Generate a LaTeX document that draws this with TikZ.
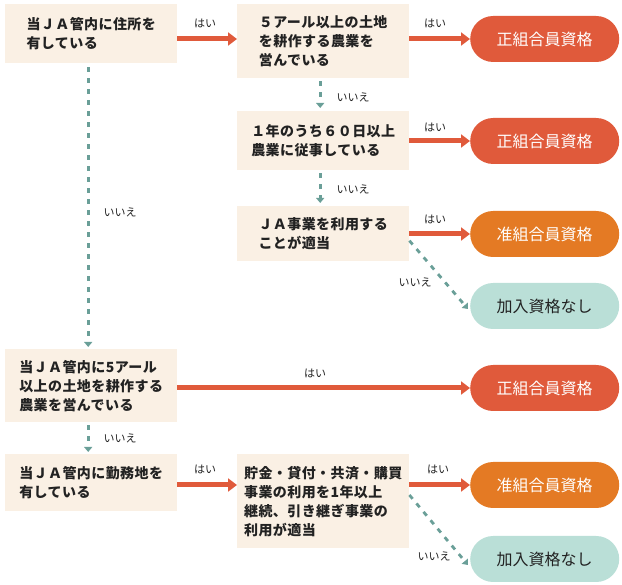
\documentclass[tikz,border=0pt]{standalone}
\usepackage{fontspec}
\usepackage{xcolor}
\usetikzlibrary{arrows.meta}
\newfontfamily\qfont{Noto Sans CJK JP}[LetterSpace=3]
\newfontfamily\rfont{Noto Sans CJK JP}
\definecolor{boxbg}{HTML}{FAF0E4}
\definecolor{yesred}{HTML}{E05A3B}
\definecolor{assocorange}{HTML}{E47A24}
\definecolor{noneteal}{HTML}{BADFD7}
\definecolor{nodash}{HTML}{6A9F98}
\definecolor{txtdark}{HTML}{222222}
\tikzset{question/.style = {fill=boxbg, anchor=north west, minimum width=172pt, inner sep=0pt, align=left, text=txtdark, font=\qfont\bfseries\fontsize{14}{19}\selectfont}}
\tikzset{result/.style = {anchor=west, rounded corners=23pt, minimum width=149pt, minimum height=46pt, inner sep=0pt, font=\rfont\fontsize{16}{16}\selectfont}}
\tikzset{yes/.style = {-{Triangle[length=9pt,width=13pt]}, line width=5pt, draw=yesred}}
\tikzset{no/.style = {-{Triangle[length=5pt,width=8pt]}, line width=2.8pt, draw=nodash, dash pattern=on 5pt off 6pt}}
\tikzset{lbl/.style = {text=txtdark, font=\rfont\fontsize{11}{11}\selectfont}}

\begin{document}
\begin{tikzpicture}[x=1pt,y=-1pt]
		\useasboundingbox (0,0) rectangle (622,585);
		% questions
		\node[question, minimum height=59pt] (q1) at (5,4) {当ＪＡ管内に住所を\\有している};
		\node[question, minimum height=74pt] (q2) at (237,4) {５アール以上の土地\\を耕作する農業を\\営んでいる};
		\node[question, minimum height=59pt] (q3) at (237,111) {１年のうち６０日以上\\農業に従事している};
		\node[question, minimum height=55pt] (q4) at (237,206) {ＪＡ事業を利用する\\ことが適当};
		\node[question, minimum height=73pt] (q5) at (5,349) {当ＪＡ管内に5アール\\以上の土地を耕作する\\農業を営んでいる};
		\node[question, minimum height=57pt] (q6) at (5,454) {当ＪＡ管内に勤務地を\\有している};
		\node[question, minimum height=94pt] (q7) at (237,454) {貯金・貸付・共済・購買\\事業の利用を1年以上\\継続、引き継ぎ事業の\\利用が適当};
		% results
		\node[result, fill=yesred, text=white] (r1) at (470,39) {正組合員資格};
		\node[result, fill=yesred, text=white] (r2) at (470,141) {正組合員資格};
		\node[result, fill=assocorange, text=white] (r3) at (470,234) {准組合員資格};
		\node[result, fill=noneteal, text=txtdark] (r4) at (470,306) {加入資格なし};
		\node[result, fill=yesred, text=white] (r5) at (470,388) {正組合員資格};
		\node[result, fill=assocorange, text=white] (r6) at (470,485) {准組合員資格};
		\node[result, fill=noneteal, text=txtdark] (r7) at (470,559) {加入資格なし};
		%edges
		\draw[yes] (q1.east |- r1.west) to (q2.west |- r1.west);
		\draw[yes] (q2.east |- r1.west) to (r1.west);
		\draw[yes] (q3.east |- r2.west) to (r2.west);
		\draw[yes] (q4.east |- r3.west) to (r3.west);
		\draw[yes] (q5.east |- r5.west) to (r5.west);
		\draw[yes] (q6.east |- r6.west) to (q7.west |- r6.west);
		\draw[yes] (q7.east |- r6.west) to (r6.west);
		\draw[no, shorten <=3pt, shorten >=3pt] ([xshift=-3pt]q2.south) to ([xshift=-3pt]q3.north);
		\draw[no, shorten <=3pt, shorten >=3pt] ([xshift=-3pt]q3.south) to ([xshift=-3pt]q4.north);
		\draw[no, shorten <=4pt, shorten >=2pt] ([xshift=-3pt]q1.south) to ([xshift=-3pt]q5.north);
		\draw[no, shorten <=3pt, shorten >=2pt] ([xshift=-3pt]q5.south) to ([xshift=-3pt]q6.north);
		\draw[no] ([yshift=-7pt]q4.east) to ([xshift=-2pt,yshift=-3pt]r4.west);
		\draw[no] ([yshift=-10pt]q7.east |- r6.west) to ([xshift=-2pt,yshift=-6pt]r7.west);
		% labels
		\node[lbl] (y1) at (205,23) {はい};
		\node[lbl] (y2) at (435,23) {はい};
		\node[lbl] (y3) at (435,127) {はい};
		\node[lbl] (y4) at (435,219) {はい};
		\node[lbl] (y5) at (315,373) {はい};
		\node[lbl] (y6) at (205,469) {はい};
		\node[lbl] (y7) at (438,469) {はい};
		\node[lbl] (n1) at (353,97) {いいえ};
		\node[lbl] (n2) at (353,189) {いいえ};
		\node[lbl] (n3) at (415,282) {いいえ};
		\node[lbl] (n4) at (120,212) {いいえ};
		\node[lbl] (n5) at (120,438) {いいえ};
		\node[lbl] (n6) at (434,556) {いいえ};
	\end{tikzpicture}
\end{document}
